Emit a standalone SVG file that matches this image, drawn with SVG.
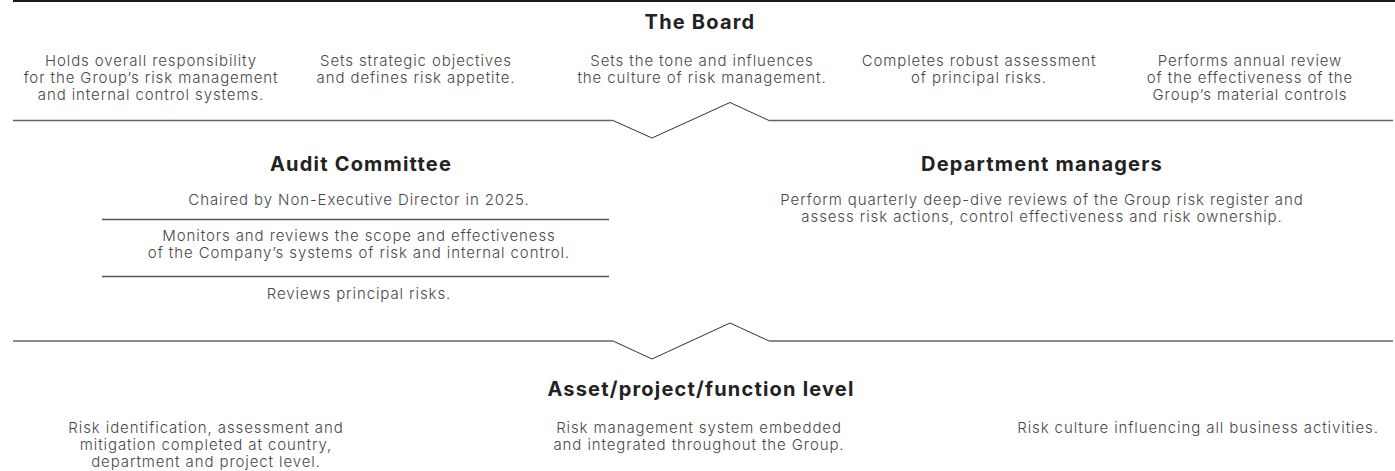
<svg xmlns="http://www.w3.org/2000/svg" width="1395" height="471" viewBox="0 0 1395 471">
  <style>
    .title { font-family: Inter, "Liberation Sans", sans-serif; font-weight: 700; font-size: 20px; letter-spacing: 1.2px; fill: #222; text-anchor: middle; }
    .body { font-family: Inter, "Liberation Sans", sans-serif; font-weight: 300; font-size: 15px; letter-spacing: 0.9px; fill: #484848; text-anchor: middle; }
    .rule { stroke: #666; stroke-width: 1.5; fill: none; }
    .chevron { stroke: #333; stroke-width: 1; fill: none; stroke-linejoin: miter; }
    .sep { stroke: #555; stroke-width: 1.5; }
  </style>
  <rect width="1395" height="471" fill="#fff"/>

  <!-- connectors: top rule and the two chevron dividers between tiers -->
  <g id="connectors">
    <line x1="13" y1="1" x2="1395" y2="1" stroke="#1a1a1a" stroke-width="2"/>
    <path class="rule" d="M13 120.5 H613"/>
    <path class="chevron" d="M613 120.5 L652 138 L730 102.5 L769 120.5"/>
    <path class="rule" d="M769 120.5 H1393"/>
    <path class="rule" d="M13 341 H613"/>
    <path class="chevron" d="M613 341 L652 359 L730 323 L769 341"/>
    <path class="rule" d="M769 341 H1393"/>
  </g>

  <g id="board">
    <text class="title" x="700" y="29">The Board</text>
    <text class="body" x="151" y="66">Holds overall responsibility</text>
    <text class="body" x="151" y="83">for the Group’s risk management</text>
    <text class="body" x="151" y="100">and internal control systems.</text>
    <text class="body" x="416" y="66">Sets strategic objectives</text>
    <text class="body" x="416" y="83">and defines risk appetite.</text>
    <text class="body" x="702" y="66">Sets the tone and influences</text>
    <text class="body" x="702" y="83">the culture of risk management.</text>
    <text class="body" x="979" y="66">Completes robust assessment</text>
    <text class="body" x="979" y="83">of principal risks.</text>
    <text class="body" x="1250" y="66">Performs annual review</text>
    <text class="body" x="1250" y="83">of the effectiveness of the</text>
    <text class="body" x="1250" y="100">Group’s material controls</text>
  </g>

  <g id="audit-committee">
    <text class="title" x="361" y="171">Audit Committee</text>
    <text class="body" x="359" y="205">Chaired by Non-Executive Director in 2025.</text>
    <line class="sep" x1="102" y1="219.5" x2="609" y2="219.5"/>
    <text class="body" x="359" y="241">Monitors and reviews the scope and effectiveness</text>
    <text class="body" x="359" y="258">of the Company’s systems of risk and internal control.</text>
    <line class="sep" x1="102" y1="276.5" x2="609" y2="276.5"/>
    <text class="body" x="359" y="299">Reviews principal risks.</text>
  </g>

  <g id="department-managers">
    <text class="title" x="1042" y="171">Department managers</text>
    <text class="body" x="1042" y="205">Perform quarterly deep-dive reviews of the Group risk register and</text>
    <text class="body" x="1042" y="222">assess risk actions, control effectiveness and risk ownership.</text>
  </g>

  <g id="asset-level">
    <text class="title" x="701" y="396">Asset/project/function level</text>
    <text class="body" x="206" y="433">Risk identification, assessment and</text>
    <text class="body" x="206" y="450">mitigation completed at country,</text>
    <text class="body" x="206" y="467">department and project level.</text>
    <text class="body" x="699" y="433">Risk management system embedded</text>
    <text class="body" x="699" y="450">and integrated throughout the Group.</text>
    <text class="body" x="1198" y="433">Risk culture influencing all business activities.</text>
  </g>
</svg>
